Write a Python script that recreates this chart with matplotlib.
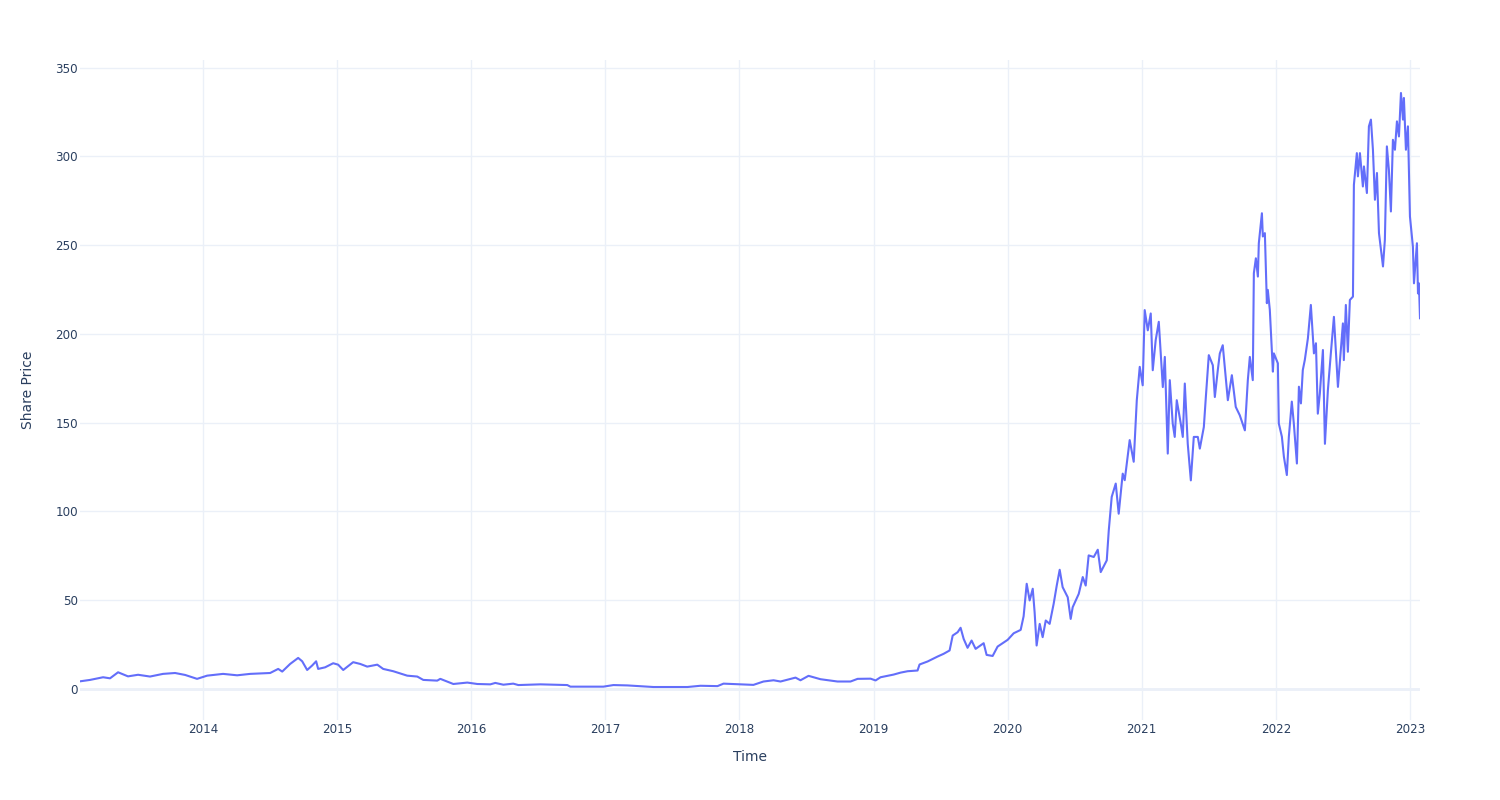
import matplotlib
matplotlib.use("Agg")
import matplotlib.pyplot as plt
import numpy as np

# decimal-year positions
time_years = [
    2013.082, 2013.157, 2013.254, 2013.306, 2013.366, 2013.440, 2013.515, 2013.604, 2013.701, 2013.791,
    2013.866, 2013.955, 2014.030, 2014.149, 2014.254, 2014.351, 2014.500, 2014.560, 2014.590, 2014.649,
    2014.709, 2014.739, 2014.776, 2014.813, 2014.843, 2014.858, 2014.910, 2014.970, 2015.007, 2015.045,
    2015.119, 2015.172, 2015.224, 2015.299, 2015.343, 2015.418, 2015.522, 2015.597, 2015.642, 2015.746,
    2015.769, 2015.866, 2015.970, 2016.045, 2016.142, 2016.179, 2016.239, 2016.313, 2016.351, 2016.515,
    2016.716, 2016.739, 2016.985, 2017.060, 2017.164, 2017.358, 2017.612, 2017.709, 2017.836, 2017.881,
    2018.007, 2018.104, 2018.179, 2018.254, 2018.306, 2018.418, 2018.455, 2018.515, 2018.604, 2018.731,
    2018.828, 2018.881, 2018.978, 2019.015, 2019.052, 2019.149, 2019.201, 2019.254, 2019.328, 2019.343,
    2019.403, 2019.478, 2019.522, 2019.567, 2019.590, 2019.627, 2019.649, 2019.672, 2019.701, 2019.731,
    2019.761, 2019.821, 2019.843, 2019.888, 2019.925, 2020.000, 2020.045, 2020.097, 2020.119, 2020.142,
    2020.164, 2020.187, 2020.201, 2020.216, 2020.239, 2020.261, 2020.284, 2020.313, 2020.343, 2020.366,
    2020.388, 2020.410, 2020.448, 2020.470, 2020.485, 2020.530, 2020.560, 2020.582, 2020.604, 2020.642,
    2020.672, 2020.694, 2020.739, 2020.754, 2020.776, 2020.806, 2020.828, 2020.858, 2020.873, 2020.910,
    2020.940, 2020.963, 2020.985, 2021.007, 2021.022, 2021.045, 2021.067, 2021.082, 2021.104, 2021.127,
    2021.157, 2021.172, 2021.194, 2021.209, 2021.231, 2021.246, 2021.261, 2021.291, 2021.306, 2021.321,
    2021.343, 2021.366, 2021.388, 2021.418, 2021.433, 2021.463, 2021.478, 2021.500, 2021.530, 2021.545,
    2021.567, 2021.582, 2021.604, 2021.619, 2021.642, 2021.672, 2021.701, 2021.731, 2021.769, 2021.791,
    2021.806, 2021.828, 2021.836, 2021.851, 2021.866, 2021.873, 2021.896, 2021.903, 2021.918, 2021.933,
    2021.940, 2021.955, 2021.978, 2021.985, 2022.015, 2022.022, 2022.045, 2022.060, 2022.082, 2022.097,
    2022.119, 2022.134, 2022.157, 2022.172, 2022.187, 2022.201, 2022.216, 2022.239, 2022.261, 2022.284,
    2022.299, 2022.313, 2022.328, 2022.351, 2022.366, 2022.388, 2022.410, 2022.433, 2022.463, 2022.500,
    2022.507, 2022.522, 2022.537, 2022.552, 2022.575, 2022.582, 2022.604, 2022.612, 2022.627, 2022.649,
    2022.657, 2022.679, 2022.694, 2022.709, 2022.724, 2022.739, 2022.754, 2022.769, 2022.799, 2022.813,
    2022.828, 2022.843, 2022.858, 2022.873, 2022.888, 2022.903, 2022.918, 2022.933, 2022.948, 2022.955,
    2022.970, 2022.985, 2023.000, 2023.022, 2023.030, 2023.052, 2023.060, 2023.067, 2023.075,
]

share_price = [
    4.1, 4.9, 6.4, 5.8, 9.2, 6.9, 7.8, 6.8, 8.3, 8.8,
    7.7, 5.5, 7.3, 8.3, 7.5, 8.3, 8.8, 11.1, 9.6, 13.9,
    17.3, 15.4, 10.5, 13.0, 15.4, 11.1, 12.0, 14.3, 13.5, 10.5,
    14.9, 13.9, 12.4, 13.5, 11.1, 9.8, 7.3, 6.8, 4.9, 4.5,
    5.5, 2.6, 3.4, 2.6, 2.4, 3.2, 2.2, 2.8, 2.0, 2.4,
    2.0, 1.1, 1.1, 2.0, 1.8, 0.9, 0.9, 1.6, 1.4, 2.8,
    2.4, 2.1, 4.0, 4.7, 4.0, 6.2, 4.7, 7.2, 5.3, 4.0,
    4.0, 5.5, 5.6, 4.6, 6.4, 7.9, 9.0, 9.8, 10.2, 13.6,
    15.3, 18.1, 19.6, 21.5, 29.9, 31.8, 34.3, 28.0, 23.0, 27.1,
    22.4, 25.6, 19.0, 18.4, 23.7, 27.5, 31.2, 33.1, 40.8, 59.1,
    49.7, 56.3, 43.1, 24.3, 36.5, 29.0, 38.4, 36.5, 47.8, 58.1,
    67.0, 57.2, 51.5, 39.3, 45.9, 53.4, 62.9, 58.1, 75.1, 74.2,
    78.3, 65.7, 72.3, 89.2, 108.1, 115.6, 98.6, 121.2, 117.5, 140.1,
    127.9, 162.6, 181.4, 171.0, 213.4, 202.0, 211.5, 179.5, 196.5, 206.8,
    170.0, 187.0, 132.5, 173.9, 149.4, 141.9, 162.6, 149.4, 141.9, 172.0,
    138.0, 117.4, 141.9, 141.9, 135.3, 147.5, 164.4, 188.0, 182.3, 164.4,
    179.5, 188.9, 193.6, 181.4, 162.6, 176.7, 158.8, 154.1, 145.6, 173.9,
    187.0, 173.9, 234.2, 242.6, 232.3, 251.1, 268.0, 254.9, 256.8, 217.3,
    224.8, 213.5, 178.7, 189.0, 183.4, 149.5, 142.0, 130.7, 120.4, 142.0,
    161.8, 149.5, 126.9, 170.2, 160.8, 179.6, 185.3, 197.5, 216.3, 189.0,
    194.7, 155.0, 166.3, 190.9, 138.0, 168.2, 188.9, 209.6, 170.1, 205.9,
    185.2, 216.3, 189.9, 219.1, 221.0, 284.0, 301.9, 288.8, 301.9, 283.1,
    294.4, 279.4, 317.0, 320.8, 303.8, 275.6, 290.7, 256.8, 238.0, 253.0,
    305.7, 292.5, 269.0, 309.4, 303.8, 319.8, 311.3, 335.8, 320.8, 333.0,
    303.8, 317.0, 266.2, 249.2, 228.5, 251.1, 222.8, 228.5, 208.8,
]

x_ticks = [2014, 2015, 2016, 2017, 2018, 2019, 2020, 2021, 2022, 2023]
x_tick_labels = ["2014", "2015", "2016", "2017", "2018", "2019", "2020", "2021", "2022", "2023"]
y_ticks = [0, 50, 100, 150, 200, 250, 300, 350]

TEXT = "#2a3f5f"
GRID = "#EBF0F8"
LINE = "#636efa"

plt.rcParams["font.family"] = ["DejaVu Sans"]

fig = plt.figure(figsize=(15, 8), dpi=100)
ax = fig.add_axes([80 / 1500, 80 / 800, 1340 / 1500, 660 / 800])

ax.plot(time_years, share_price, color=LINE, linewidth=1.5, zorder=3)

ax.set_xlim(time_years[0], time_years[-1])
ax.set_ylim(-17.7, 354.4)

ax.set_xticks(x_ticks)
ax.set_xticklabels(x_tick_labels)
ax.set_yticks(y_ticks)
ax.set_yticklabels([str(v) for v in y_ticks])

ax.grid(True, color=GRID, linewidth=1.0, zorder=0)
ax.axhline(0, color=GRID, linewidth=2.0, zorder=1)
for s in ax.spines.values():
    s.set_visible(False)
ax.tick_params(axis="both", length=0, labelsize=8.6, labelcolor=TEXT)
ax.tick_params(axis="x", pad=2)
ax.tick_params(axis="y", pad=1.5)

ax.set_xlabel("Time", fontsize=10, color=TEXT, labelpad=10.5)
ax.set_ylabel("Share Price", fontsize=10, color=TEXT, labelpad=14.5)

fig.savefig("out.png", dpi=100, facecolor="white")
